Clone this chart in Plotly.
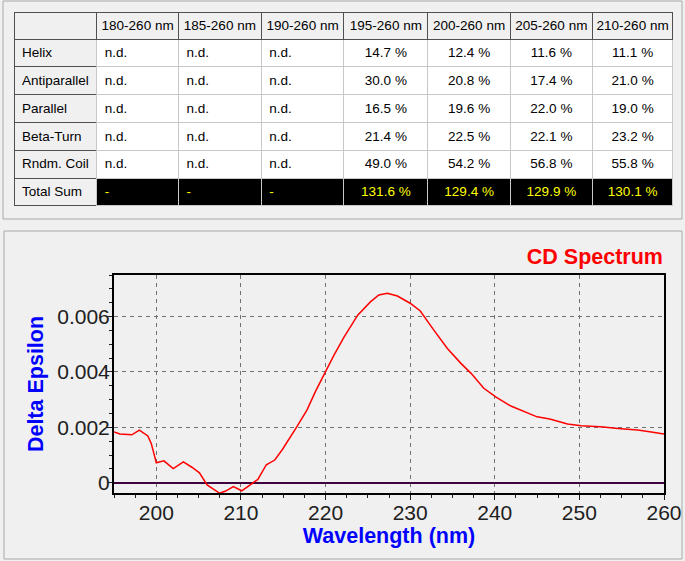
import plotly.graph_objects as go

# table contents
ranges = ['180-260 nm', '185-260 nm', '190-260 nm', '195-260 nm', '200-260 nm', '205-260 nm', '210-260 nm']
structures = ['Helix', 'Antiparallel', 'Parallel', 'Beta-Turn', 'Rndm. Coil', 'Total Sum']
r180 = ['n.d.', 'n.d.', 'n.d.', 'n.d.', 'n.d.', '-']
r185 = ['n.d.', 'n.d.', 'n.d.', 'n.d.', 'n.d.', '-']
r190 = ['n.d.', 'n.d.', 'n.d.', 'n.d.', 'n.d.', '-']
r195 = ['14.7 %', '30.0 %', '16.5 %', '21.4 %', '49.0 %', '131.6 %']
r200 = ['12.4 %', '20.8 %', '19.6 %', '22.5 %', '54.2 %', '129.4 %']
r205 = ['11.6 %', '17.4 %', '22.0 %', '22.1 %', '56.8 %', '129.9 %']
r210 = ['11.1 %', '21.0 %', '19.0 %', '23.2 %', '55.8 %', '130.1 %']

# CD spectrum
wavelength = [195.0, 195.7, 197.1, 198.0, 199.0, 199.4, 200.0, 200.9, 202.0, 203.2,
              204.2, 205.1, 206.0, 207.5, 208.2, 209.1, 210.1, 211.1, 212.0, 213.0,
              214.0, 214.9, 215.7, 216.6, 217.8, 218.8, 220.0, 221.0, 222.2, 223.8,
              225.3, 226.3, 227.3, 228.5, 230.0, 231.2, 232.8, 234.4, 236.0, 237.2,
              238.7, 240.2, 241.9, 243.9, 245.0, 246.5, 248.6, 250.2, 252.5, 254.9,
              256.9, 258.5, 260.0]
delta_eps = [0.00183, 0.00176, 0.00173, 0.00190, 0.00169, 0.00142, 0.00072, 0.00079, 0.00051, 0.00075,
             0.00056, 0.00036, -0.00008, -0.00038, -0.00030, -0.00014, -0.00029, -0.00008, 0.00012, 0.00065,
             0.00082, 0.00120, 0.00157, 0.00202, 0.00262, 0.00329, 0.00401, 0.00461, 0.00527, 0.00605,
             0.00653, 0.00678, 0.00684, 0.00674, 0.00648, 0.00620, 0.00551, 0.00485, 0.00431, 0.00395,
             0.00341, 0.00308, 0.00277, 0.00251, 0.00238, 0.00230, 0.00212, 0.00206, 0.00202, 0.00195,
             0.00190, 0.00183, 0.00176]

W, H = 685, 561
BG = '#f0f0f0'


def px_x(x):
    return x / W


def px_y(y):
    return 1 - y / H


def nobreak(labels):
    # keep table labels on one line (plotly wraps cell text at spaces)
    return [s.replace(' ', '\u00a0') for s in labels]


data_cols = [r180, r185, r190, r195, r200, r205, r210]
n = len(structures)
fills = [[BG] * n] + [['white'] * (n - 1) + ['black'] for _ in data_cols]
fcolors = [['black'] * n] + [['black'] * (n - 1) + ['#ffff00'] for _ in data_cols]
aligns = ['left', 'left', 'left', 'left', 'center', 'center', 'center', 'center']

fig = go.Figure()

fig.add_trace(go.Table(
    domain=dict(x=[px_x(14), px_x(673)], y=[px_y(208), px_y(12)]),
    columnwidth=[83, 82, 83, 83, 84, 83, 82, 81],
    header=dict(
        values=[''] + nobreak(ranges),
        fill_color=BG,
        line=dict(color='#505050', width=1),
        font=dict(family='Arial, Liberation Sans', size=13.5, color='black'),
        align='center',
        height=27
    ),
    cells=dict(
        values=[nobreak(structures)] + [nobreak(c) for c in data_cols],
        fill_color=fills,
        line=dict(color=['#505050'] + ['#c8c8c8'] * 7, width=1),
        font=dict(family='Arial, Liberation Sans', size=13.5, color=fcolors),
        align=aligns,
        height=27.8
    )
))

fig.add_trace(go.Scatter(
    x=wavelength,
    y=delta_eps,
    mode='lines',
    line=dict(color='#ff0000', width=1.5),
    showlegend=False
))

tickfont = dict(family='Arial, Liberation Sans', size=21, color='#202020')
titlefont = dict(family='Arial, Liberation Sans', size=21.5, color='#0000ff', weight='bold')

fig.update_xaxes(
    domain=[px_x(114), px_x(664)],
    range=[195, 260],
    tick0=200, dtick=10,
    ticks='outside', ticklen=5, tickcolor='#202020',
    minor=dict(dtick=2.5, tick0=200, ticks='outside', ticklen=3, tickcolor='#202020', showgrid=False),
    showgrid=True, gridcolor='#707070', griddash='4px,4px', gridwidth=1,
    zeroline=False,
    showline=True, mirror=True, linecolor='black', linewidth=2,
    tickfont=tickfont, ticklabelstandoff=-5,
    title=dict(text='Wavelength (nm)', font=titlefont, standoff=2),
    automargin=False
)
fig.update_yaxes(
    domain=[px_y(493), px_y(275)],
    range=[-0.00037, 0.0075],
    tick0=0, dtick=0.002,
    ticks='outside', ticklen=5, tickcolor='#202020',
    minor=dict(dtick=0.0005, tick0=0, ticks='outside', ticklen=3, tickcolor='#202020', showgrid=False),
    showgrid=True, gridcolor='#707070', griddash='4px,4px', gridwidth=1,
    zeroline=True, zerolinecolor='#400040', zerolinewidth=1.5,
    showline=True, mirror=True, linecolor='black', linewidth=2,
    tickfont=tickfont, ticklabelstandoff=-7,
    title=dict(text='Delta Epsilon', font=titlefont, standoff=8),
    automargin=False
)

# window panels
fig.add_shape(type='rect', xref='paper', yref='paper',
              x0=px_x(3), y0=px_y(219), x1=px_x(682), y1=px_y(1),
              line=dict(color='#a8a8a8', width=1), layer='below')
fig.add_shape(type='rect', xref='paper', yref='paper',
              x0=px_x(4), y0=px_y(559), x1=px_x(682), y1=px_y(231),
              line=dict(color='#a8a8a8', width=1), layer='below')

fig.update_layout(
    width=W, height=H,
    template='none',
    margin=dict(l=0, r=0, t=0, b=0),
    paper_bgcolor=BG,
    plot_bgcolor=BG,
    showlegend=False,
    title=dict(
        text='CD Spectrum',
        font=dict(family='Arial, Liberation Sans', size=21.5, color='#ff0000', weight='bold'),
        x=px_x(663), xanchor='right',
        y=px_y(256), yanchor='middle'
    )
)

# page default margin would shift the figure by 8px
fig.write_html("out.html", config={'displayModeBar': False},
               post_script="document.body.style.margin='0px';")
